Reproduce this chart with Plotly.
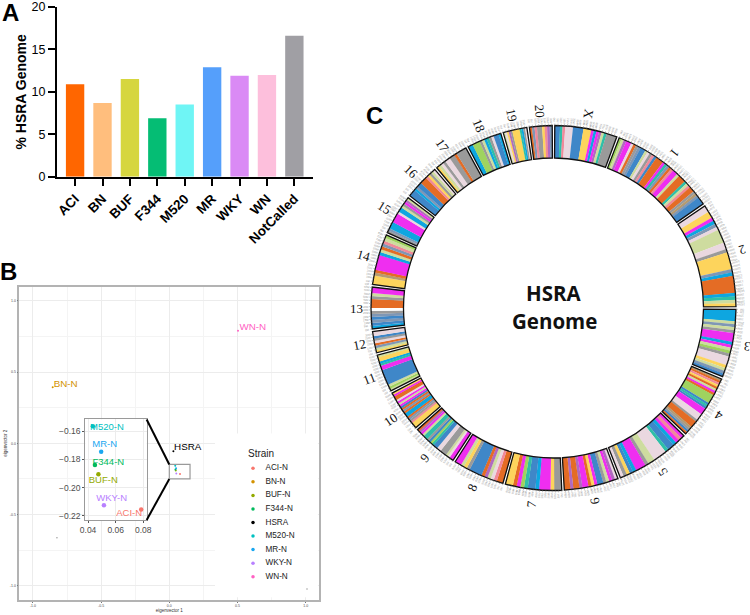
import math
from itertools import groupby
import plotly.graph_objects as go

# ---------- Panel A ----------
bar_names = ["ACI", "BN", "BUF", "F344", "M520", "MR", "WKY", "WN", "NotCalled"]
bar_values = [10.9, 8.7, 11.5, 6.9, 8.5, 12.9, 11.9, 12.0, 16.6]
bar_colors = ["#ff6600", "#ffbe7d", "#d6d63f", "#05bd74", "#6ff5f5", "#559ffb", "#da8af5", "#fdbfdc", "#a09fa4"]

# ---------- Panel B ----------
strains = ["ACI-N", "BN-N", "BUF-N", "F344-N", "HSRA", "M520-N", "MR-N", "WKY-N", "WN-N"]
strain_colors = ["#F8766D", "#D39200", "#93AA00", "#00BA5C", "#000000", "#00C1C1", "#1AA7F0", "#B880FF", "#FF61C3"]
pc1 = [0.0785, -0.855, 0.0475, 0.045, 0.03, 0.0435, 0.0495, 0.0515, 0.504]
pc2 = [-0.2155, 0.394, -0.1905, -0.184, -0.055, -0.1565, -0.1745, -0.2125, 0.79]
main_label_x = [None, -0.76, None, None, 0.135, None, None, None, 0.612]
main_label_y = [None, 0.415, None, None, -0.03, None, None, None, 0.81]
inset_label_x = [0.0698, None, 0.0510, 0.0547, None, 0.0537, 0.0521, 0.0571, None]
inset_label_y = [-0.2183, None, -0.1953, -0.182, None, -0.1574, -0.1697, -0.2081, None]
stray_x = [-0.824, 1.01]
stray_y = [-0.663, -1.023]

# ---------- Panel C ----------
chrom_names = ["X", "1", "2", "3", "4", "5", "6", "7", "8", "9", "10",
               "11", "12", "13", "14", "15", "16", "17", "18", "19", "20"]
chrom_edges = [0, 20.7, 55.6, 90, 112.5, 134, 158.9, 177, 195.7, 213, 228.6,
               242.6, 255.4, 263, 277, 294, 307.6, 319.8, 331.7, 343.6, 352, 360]
chrom_bands = [
    "bbtneeebbbbyyymcmpstgggg",
    "lspmmeogabbsegnbooomtaonmmsoootsnoogdabbb",
    "eeyymcaesssseegyyyyyacoooooctsy",
    "ccccsasgmmmcmslgeeeysab",
    "donyosmollllbtbmmmeeegooodgbo",
    "mnmcbbteeeessgmmmcbyge",
    "epmsgbbmyommpoopoo",
    "ggymmmcbbtlmoyy",
    "oonespobbbbgysmm",
    "mmesgggeebbtlbgttsmpo",
    "yyyngaoccoaobmsmeoomy",
    "slsbbbbbbbmmtcyys",
    "ysaoegbee",
    "cbabagwooogsmm",
    "yyydommmmmcsoansl",
    "gacccmmmmeccsgmps",
    "bbbcabbooonygse",
    "ysegeeggogggg",
    "cclllgsctgebbc",
    "seypgyyyytcge",
    "oanggynpa",
]
band_palette = {
    "b": "#3f87c8", "y": "#fdd45c", "e": "#ead8e0", "m": "#ef2ef0", "c": "#0ea6e0",
    "o": "#e46c25", "s": "#cedc9f", "g": "#9a9a9a", "l": "#9fd35f", "p": "#b06ac0",
    "t": "#2fbfa8", "a": "#7f97b5", "n": "#f08a9a", "d": "#b59a70", "w": "#ffffff",
}
ring_inner = 150
ring_outer = 182.5
chrom_gap = 0.8
tick_step = 1.0

W, H = 750, 615
def fx(p): return p / W
def fy(p): return 1 - p / H

fig = go.Figure()

# A
fig.add_trace(go.Bar(x=bar_names, y=bar_values, width=0.67, marker=dict(color=bar_colors, line_width=0),
                     xaxis="x", yaxis="y", showlegend=False))

# B main
fig.add_trace(go.Scatter(x=pc1, y=pc2, mode="markers", marker=dict(color=strain_colors, size=2),
                         xaxis="x2", yaxis="y2", showlegend=False))
fig.add_trace(go.Scatter(x=main_label_x, y=main_label_y, mode="text", text=strains,
                         textfont=dict(color=strain_colors, size=9.8, family="Liberation Sans"),
                         textposition="middle center", xaxis="x2", yaxis="y2", showlegend=False))
fig.add_trace(go.Scatter(x=stray_x, y=stray_y, mode="markers", marker=dict(color="#999999", size=1.5),
                         xaxis="x2", yaxis="y2", showlegend=False))
# B inset
fig.add_trace(go.Scatter(x=pc1, y=pc2, mode="markers", marker=dict(color=strain_colors, size=4.5),
                         xaxis="x3", yaxis="y3", showlegend=False))
fig.add_trace(go.Scatter(x=inset_label_x, y=inset_label_y, mode="text", text=strains,
                         textfont=dict(color=strain_colors, size=9.5, family="Liberation Sans"),
                         textposition="middle center", xaxis="x3", yaxis="y3", showlegend=False))
# B legend
fig.add_trace(go.Scatter(x=[8] * 9, y=strains, mode="markers", marker=dict(color=strain_colors, size=3.5),
                         xaxis="x4", yaxis="y4", showlegend=False))
fig.add_trace(go.Scatter(x=[20.5] * 9, y=strains, mode="text", text=strains, textposition="middle right",
                         textfont=dict(color="#222222", size=8.2, family="Liberation Sans"),
                         xaxis="x4", yaxis="y4", showlegend=False))

# C bands + outlines + ticks
annotations = []
CX, CY = 553.5, 308
def polar_px(r, th):
    a = math.radians(th)
    return CX + r * math.sin(a), CY - r * math.cos(a)

band_t, band_w, band_c = [], [], []
out_t, out_w = [], []
tick_t, tick_r = [], []
for i, name in enumerate(chrom_names):
    a0 = chrom_edges[i] + chrom_gap / 2
    a1 = chrom_edges[i + 1] - chrom_gap / 2
    bands = chrom_bands[i]
    w = (a1 - a0) / len(bands)
    pos = 0
    for ch, run in groupby(bands):
        n = len(list(run))
        band_t.append(a0 + (pos + n / 2) * w)
        band_w.append(n * w + 0.06)
        band_c.append(band_palette[ch])
        pos += n
    out_t.append((a0 + a1) / 2)
    out_w.append(a1 - a0)
    mid = (a0 + a1) / 2
    px, py = polar_px(197, mid)
    annotations.append(dict(x=fx(px), y=fy(py), xref="paper", yref="paper", text=name, showarrow=False,
                            textangle=(mid + 90) % 360, xanchor="center", yanchor="middle",
                            font=dict(family="Liberation Serif", size=13, color="#111111")))
    t = a0
    k = 0
    while t <= a1 + 1e-6:
        tick_t += [t, t, None]
        tick_r += [ring_outer, ring_outer + 2, None]
        px, py = polar_px(187.5, t)
        annotations.append(dict(x=fx(px), y=fy(py), xref="paper", yref="paper", text=f"{k * 5}M", showarrow=False,
                                textangle=(t + 90) % 360, xanchor="center", yanchor="middle",
                                font=dict(family="Liberation Sans", size=2.8, color="#999999")))
        t += tick_step
        k += 1

fig.add_trace(go.Barpolar(theta=band_t, r=[ring_outer - ring_inner] * len(band_t), base=ring_inner, width=band_w,
                          marker=dict(color=band_c, line_width=0), subplot="polar", showlegend=False))
fig.add_trace(go.Barpolar(theta=out_t, r=[ring_outer - ring_inner] * len(out_t), base=ring_inner, width=out_w,
                          marker=dict(color="rgba(0,0,0,0)", line=dict(color="#111111", width=1.3)),
                          subplot="polar", showlegend=False))
fig.add_trace(go.Scatterpolar(theta=tick_t, r=tick_r, mode="lines", line=dict(color="#8a8a8a", width=0.5),
                              subplot="polar", showlegend=False))

for txt, px, py, sz in [("A", 10, 13, 24), ("B", 8, 271, 24), ("C", 374, 115, 24)]:
    annotations.append(dict(x=fx(px), y=fy(py), xref="paper", yref="paper", text=f"<b>{txt}</b>", showarrow=False,
                            xanchor="center", yanchor="middle",
                            font=dict(family="Liberation Sans", size=sz, color="#000000")))
for txt, py in [("HSRA", 293), ("Genome", 321)]:
    annotations.append(dict(x=fx(554), y=fy(py), xref="paper", yref="paper", text=f"<b>{txt}</b>", showarrow=False,
                            xanchor="center", yanchor="middle",
                            font=dict(family="Open Sans", size=20.5, color="#111111")))
annotations.append(dict(x=fx(245.7), y=fy(453.5), xref="paper", yref="paper", text="Strain", showarrow=False,
                        xanchor="left", yanchor="middle",
                        font=dict(family="Liberation Sans", size=10, color="#222222")))

shapes = [
    dict(type="rect", xref="x2", yref="y2", x0=0.335, x1=1.09, y0=-1.08, y1=0.07, layer="between",
         fillcolor="white", line_width=0),
    dict(type="rect", xref="x2", yref="y2", x0=0, x1=0.152, y0=-0.25, y1=-0.148,
         line=dict(color="#9a9a9a", width=1.2)),
    dict(type="line", xref="x2", yref="y2", x0=-0.166, y0=0.168, x1=0, y1=-0.148,
         line=dict(color="#000000", width=2)),
    dict(type="line", xref="x2", yref="y2", x0=-0.166, y0=-0.538, x1=0, y1=-0.25,
         line=dict(color="#000000", width=2)),
]

mono = dict(family="Liberation Sans", color="#000000")
grey_tick = dict(family="Liberation Sans", size=3.5, color="#4d4d4d")

fig.update_layout(
    width=W, height=H, margin=dict(l=0, r=0, t=0, b=0, autoexpand=False), paper_bgcolor="white", plot_bgcolor="white",
    font=dict(family="Liberation Sans"), annotations=annotations, shapes=shapes,
    xaxis=dict(domain=[fx(57), fx(313)], range=[-0.66, 8.68], anchor="y", showgrid=False, zeroline=False,
               showline=True, linecolor="#000", linewidth=2, ticks="outside", ticklen=7, tickwidth=1.6, tickcolor="#000",
               tickangle=-45, tickfont=dict(size=13.5, **mono), tickprefix="<b>", ticksuffix="</b>", automargin=False),
    yaxis=dict(domain=[fy(176.7), fy(7)], range=[0, 20], anchor="x", tickvals=[0, 5, 10, 15, 20], showgrid=False,
               zeroline=False, showline=True, linecolor="#000", linewidth=2, ticks="outside", ticklen=7, tickwidth=1.6,
               tickcolor="#000", tickfont=dict(size=12.5, **mono), tickprefix="<b>", ticksuffix="</b>", automargin=False,
               ticklabeloverflow="allow", ticklabelposition="outside",
               title=dict(text="<b>% HSRA Genome</b>", font=dict(size=14, **mono), standoff=2)),
    xaxis2=dict(domain=[fx(19.3), fx(319.3)], range=[-1.1, 1.1], anchor="y2", tickvals=[-1, -0.5, 0, 0.5, 1],
                ticktext=["-1.0", "-0.5", "0.0", "0.5", "1.0"], tickfont=grey_tick, showgrid=True, gridcolor="#ececec",
                gridwidth=0.6, zeroline=False, showline=True, mirror=True, linecolor="#b3b3b3", linewidth=1.5,
                ticks="outside", ticklen=1, tickwidth=0.4, tickcolor="#777", automargin=False,
                minor=dict(tickvals=[-0.75, -0.25, 0.25, 0.75], showgrid=True, gridcolor="#f4f4f4", gridwidth=0.4),
                title=dict(text="eigenvector 1", font=dict(size=4.5, family="Liberation Sans", color="#333"), standoff=2)),
    yaxis2=dict(domain=[fy(600), fy(286.7)], range=[-1.1, 1.1], anchor="x2", tickvals=[-1, -0.5, 0, 0.5, 1],
                ticktext=["-1.0", "-0.5", "0.0", "0.5", "1.0"], tickfont=grey_tick, showgrid=True, gridcolor="#ececec",
                gridwidth=0.6, zeroline=False, showline=True, mirror=True, linecolor="#b3b3b3", linewidth=1.5,
                ticks="outside", ticklen=1, tickwidth=0.4, tickcolor="#777", automargin=False,
                minor=dict(tickvals=[-0.75, -0.25, 0.25, 0.75], showgrid=True, gridcolor="#f4f4f4", gridwidth=0.4),
                title=dict(text="eigenvector 2", font=dict(size=4.5, family="Liberation Sans", color="#333"), standoff=2)),
    xaxis3=dict(domain=[fx(85.3), fx(146.7)], range=[0.038, 0.0825], anchor="y3", tickvals=[0.04, 0.06, 0.08],
                tickformat=".2f", tickfont=dict(size=8.5, family="Liberation Sans", color="#4d4d4d"), showgrid=True,
                gridcolor="#ececec", gridwidth=0.6, zeroline=False, showline=True, mirror=True, linecolor="#9a9a9a",
                linewidth=1.2, ticks="outside", ticklen=2, tickwidth=0.6, tickcolor="#555", automargin=False),
    yaxis3=dict(domain=[fy(520), fy(419.3)], range=[-0.223, -0.1515], anchor="x3", tickvals=[-0.22, -0.20, -0.18, -0.16],
                tickformat=".2f", tickfont=dict(size=8.5, family="Liberation Sans", color="#4d4d4d"), showgrid=True,
                gridcolor="#ececec", gridwidth=0.6, zeroline=False, showline=True, mirror=True, linecolor="#9a9a9a",
                linewidth=1.2, ticks="outside", ticklen=2, tickwidth=0.6, tickcolor="#555", automargin=False),
    xaxis4=dict(domain=[fx(245), fx(316)], range=[0, 71], anchor="y4", visible=False, automargin=False),
    yaxis4=dict(domain=[fy(583.5), fy(461.5)], range=[8.5, -0.5], anchor="x4", visible=False, type="category",
                categoryorder="array", categoryarray=strains, automargin=False),
    polar=dict(domain=dict(x=[fx(357.5), fx(749.5)], y=[fy(504), fy(112)]), bgcolor="rgba(0,0,0,0)", barmode="overlay",
               radialaxis=dict(range=[0, 196], visible=False, showgrid=False),
               angularaxis=dict(direction="clockwise", rotation=90, visible=False, showgrid=False, thetaunit="degrees")),
)

fig.write_html("out.html", config=dict(displayModeBar=False), post_script="document.body.style.margin='0';")
